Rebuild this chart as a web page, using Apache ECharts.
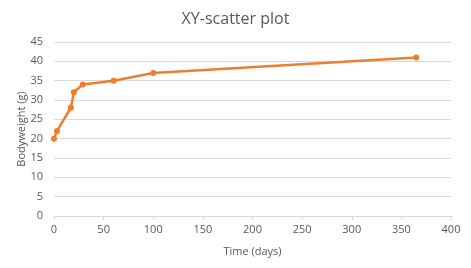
<!DOCTYPE html>
<html><head><meta charset="utf-8">
<script src="https://cdn.jsdelivr.net/npm/echarts@6/dist/echarts.min.js"></script>
<style>html,body{margin:0;padding:0;background:#fff}#c{width:471px;height:268px}</style>
</head><body><div id="c"></div>
<script>
var timeDays = [0, 3, 17, 20, 29, 60, 100, 365];
var bodyweight = [20, 22, 28, 32, 34, 35, 37, 41];
var xTicks = [0, 50, 100, 150, 200, 250, 300, 350, 400];
var yTicks = [0, 5, 10, 15, 20, 25, 30, 35, 40, 45];

var chart = echarts.init(document.getElementById('c'));
var pts = timeDays.map(function (t, i) { return [t, bodyweight[i]]; });
chart.setOption({
  animation: false,
  title: { text: 'XY-scatter plot', left: 'center', top: 6,
    textStyle: { fontFamily: 'Open Sans', fontSize: 16, fontWeight: 'normal', color: '#595959' } },
  grid: { left: 54, right: 20, top: 42, bottom: 52 },
  xAxis: { type: 'value', min: xTicks[0], max: xTicks[xTicks.length - 1], interval: 50,
    name: 'Time (days)', nameLocation: 'middle', nameGap: 30, nameMoveOverlap: false,
    nameTextStyle: { fontFamily: 'Open Sans', fontSize: 11, color: '#595959' },
    axisLine: { show: true, lineStyle: { color: '#d9d9d9' } },
    axisTick: { show: true, length: 4, lineStyle: { color: '#d9d9d9' } },
    axisLabel: { fontFamily: 'Open Sans', fontSize: 11, color: '#595959', margin: 8 },
    splitLine: { show: false } },
  yAxis: { type: 'value', min: yTicks[0], max: yTicks[yTicks.length - 1], interval: 5,
    name: 'Bodyweight (g)', nameLocation: 'middle', nameGap: 27, nameRotate: 90, nameMoveOverlap: false,
    nameTextStyle: { fontFamily: 'Open Sans', fontSize: 11, color: '#595959' },
    axisLine: { show: false }, axisTick: { show: false },
    axisLabel: { fontFamily: 'Open Sans', fontSize: 11, color: '#595959', margin: 11 },
    splitLine: { lineStyle: { color: '#d9d9d9' } } },
  series: [{ type: 'line', data: pts, symbol: 'circle', symbolSize: 6,
    lineStyle: { color: '#ed7d31', width: 2.5 },
    itemStyle: { color: '#ed7d31' } }]
});
</script></body></html>
